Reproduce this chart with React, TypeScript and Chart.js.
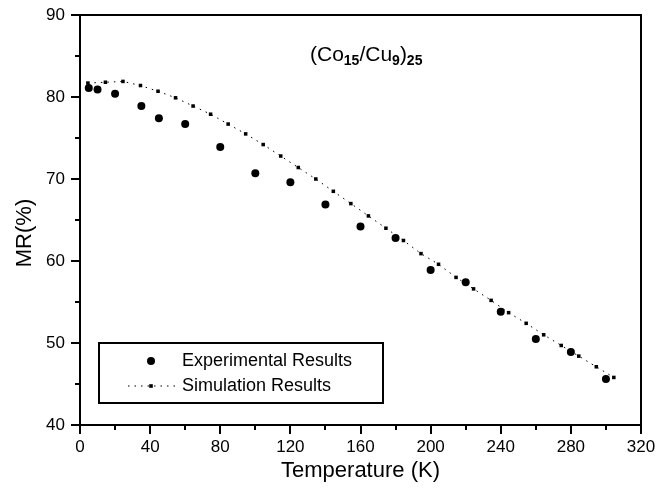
import React, { useEffect, useRef } from 'react';
import { Chart, registerables } from 'chart.js';

Chart.register(...registerables);

// ---- data ----
const expTemps = [5, 10, 20, 35, 45, 60, 80, 100, 120, 140, 160, 180, 200, 220, 240, 260, 280, 300];
const expMR = [81.1, 80.9, 80.4, 78.9, 77.4, 76.7, 73.9, 70.7, 69.6, 66.9, 64.2, 62.8, 58.9, 57.4, 53.8, 50.5, 48.9, 45.6];

const simTemps = [4.5, 14.5, 24.5, 34.5, 44.5, 54.5, 64.5, 74.5, 84.5, 94.5, 104.5, 114.5, 124.5, 134.5, 144.5, 154.5,
  164.5, 174.5, 184.5, 194.5, 204.5, 214.5, 224.5, 234.5, 244.5, 254.5, 264.5, 274.5, 284.5, 294.5, 304.5];
const simMR = [81.7, 81.8, 81.9, 81.4, 80.7, 79.9, 78.9, 77.9, 76.7, 75.5, 74.2, 72.8, 71.4, 70.0, 68.5, 67.0,
  65.5, 64.0, 62.5, 60.9, 59.6, 58.0, 56.6, 55.2, 53.7, 52.4, 51.0, 49.7, 48.4, 47.1, 45.8];

const xMin = 0;
const xMax = 320;
const xMajorStep = 40;
const xMinorStep = 20;
const yMin = 40;
const yMax = 90;
const yMajorStep = 10;
const yMinorStep = 5;

const legendLabels = ['Experimental Results', 'Simulation Results'];
const xTitle = 'Temperature (K)';
const yTitle = 'MR(%)';
// [text, isSubscript]
const sampleTitle: [string, boolean][] = [
  ['(Co', false], ['15', true], ['/Cu', false], ['9', true], [')', false], ['25', true],
];

const FONT = '"Liberation Sans", Arial, Helvetica, sans-serif';

const decorPlugin = {
  id: 'decor',
  afterDraw(chart: any) {
    const ctx = chart.ctx as CanvasRenderingContext2D;
    const { left, right, top, bottom } = chart.chartArea;
    const xs = chart.scales.x;
    const ys = chart.scales.y;
    ctx.save();
    ctx.strokeStyle = '#000';
    ctx.fillStyle = '#000';

    // frame: top and right
    ctx.lineWidth = 2;
    ctx.beginPath();
    ctx.moveTo(left, top);
    ctx.lineTo(right, top);
    ctx.lineTo(right, bottom);
    ctx.stroke();

    // ticks (outward)
    ctx.lineWidth = 2;
    for (let v = xMin; v <= xMax + 1e-9; v += xMinorStep) {
      const px = Math.round(xs.getPixelForValue(v));
      const major = Math.abs(v % xMajorStep) < 1e-9;
      ctx.beginPath();
      ctx.moveTo(px, bottom);
      ctx.lineTo(px, bottom + (major ? 9 : 5));
      ctx.stroke();
    }
    for (let v = yMin; v <= yMax + 1e-9; v += yMinorStep) {
      const py = Math.round(ys.getPixelForValue(v));
      const major = Math.abs((v - yMin) % yMajorStep) < 1e-9;
      ctx.beginPath();
      ctx.moveTo(left, py);
      ctx.lineTo(left - (major ? 9 : 5), py);
      ctx.stroke();
    }

    // axis titles
    ctx.font = `22px ${FONT}`;
    ctx.textAlign = 'center';
    ctx.textBaseline = 'middle';
    ctx.fillText(xTitle, (left + right) / 2, bottom + 46);
    ctx.save();
    ctx.translate(left - 55, (top + bottom) / 2 + 13);
    ctx.rotate(-Math.PI / 2);
    ctx.fillText(yTitle, 0, 0);
    ctx.restore();

    // sample title with subscripts
    let tx = left + 230;
    const baseY = top + 46;
    ctx.textAlign = 'left';
    ctx.textBaseline = 'alphabetic';
    for (const [txt, sub] of sampleTitle) {
      ctx.font = sub ? `bold 14px ${FONT}` : `21px ${FONT}`;
      ctx.fillText(txt, tx, sub ? baseY + 4 : baseY);
      tx += ctx.measureText(txt).width;
    }

    // legend box
    const bx = left + 19;
    const by = bottom - 82;
    const bw = 284;
    const bh = 60;
    ctx.fillStyle = '#fff';
    ctx.fillRect(bx, by, bw, bh);
    ctx.fillStyle = '#000';
    ctx.lineWidth = 2;
    ctx.strokeRect(bx, by, bw, bh);

    const row1 = by + 18;
    const row2 = by + 43;
    const mx = bx + 52;
    // experimental marker
    ctx.beginPath();
    ctx.arc(mx, row1, 4, 0, Math.PI * 2);
    ctx.fill();
    // simulation line + marker
    ctx.lineWidth = 1;
    ctx.setLineDash([1.5, 5]);
    ctx.beginPath();
    ctx.moveTo(bx + 29, row2);
    ctx.lineTo(bx + 76, row2);
    ctx.stroke();
    ctx.setLineDash([]);
    ctx.fillRect(mx - 1.8, row2 - 1.8, 3.6, 3.6);

    ctx.font = `18px ${FONT}`;
    ctx.textBaseline = 'middle';
    ctx.fillText(legendLabels[0], bx + 83, row1);
    ctx.fillText(legendLabels[1], bx + 83, row2);
    ctx.restore();
  },
};

export default function App() {
  const canvasRef = useRef<HTMLCanvasElement | null>(null);

  useEffect(() => {
    document.body.style.margin = '0';
    const canvas = canvasRef.current;
    if (!canvas) return;
    const chart = new Chart(canvas, {
      type: 'scatter',
      data: {
        datasets: [
          {
            label: legendLabels[1],
            data: simTemps.map((t, i) => ({ x: t, y: simMR[i] })),
            showLine: true,
            borderColor: '#000',
            borderWidth: 1,
            borderDash: [1.5, 5],
            backgroundColor: '#000',
            pointStyle: 'rect',
            pointRadius: 2.5,
            pointBorderWidth: 0,
            pointBackgroundColor: '#000',
            tension: 0,
          },
          {
            label: legendLabels[0],
            data: expTemps.map((t, i) => ({ x: t, y: expMR[i] })),
            showLine: false,
            backgroundColor: '#000',
            borderColor: '#000',
            pointStyle: 'circle',
            pointRadius: 4,
            pointBorderWidth: 0,
          },
        ],
      },
      options: {
        responsive: false,
        animation: false,
        layout: { padding: { top: 15, right: 27, left: 0, bottom: 0 } },
        plugins: {
          legend: { display: false },
          tooltip: { enabled: false },
          title: { display: false },
        },
        scales: {
          x: {
            type: 'linear',
            min: xMin,
            max: xMax,
            ticks: {
              stepSize: xMajorStep,
              color: '#000',
              font: { family: FONT, size: 17 },
              padding: 12,
              maxRotation: 0,
            },
            grid: { display: false, drawTicks: false },
            border: { display: true, color: '#000', width: 2 },
            afterFit: (scale: any) => {
              scale.height = 70;
              scale.paddingLeft = 0;
              scale.paddingRight = 0;
            },
          },
          y: {
            type: 'linear',
            min: yMin,
            max: yMax,
            ticks: {
              stepSize: yMajorStep,
              color: '#000',
              font: { family: FONT, size: 17 },
              padding: 15,
            },
            grid: { display: false, drawTicks: false },
            border: { display: true, color: '#000', width: 2 },
            afterFit: (scale: any) => {
              scale.width = 80;
              scale.paddingTop = 0;
              scale.paddingBottom = 0;
            },
          },
        },
      },
      plugins: [decorPlugin],
    });
    return () => chart.destroy();
  }, []);

  return (
    <div style={{ position: 'fixed', left: 0, top: 0, width: 668, height: 495, background: '#fff' }}>
      <canvas ref={canvasRef} width={668} height={495} style={{ display: 'block' }} />
    </div>
  );
}
